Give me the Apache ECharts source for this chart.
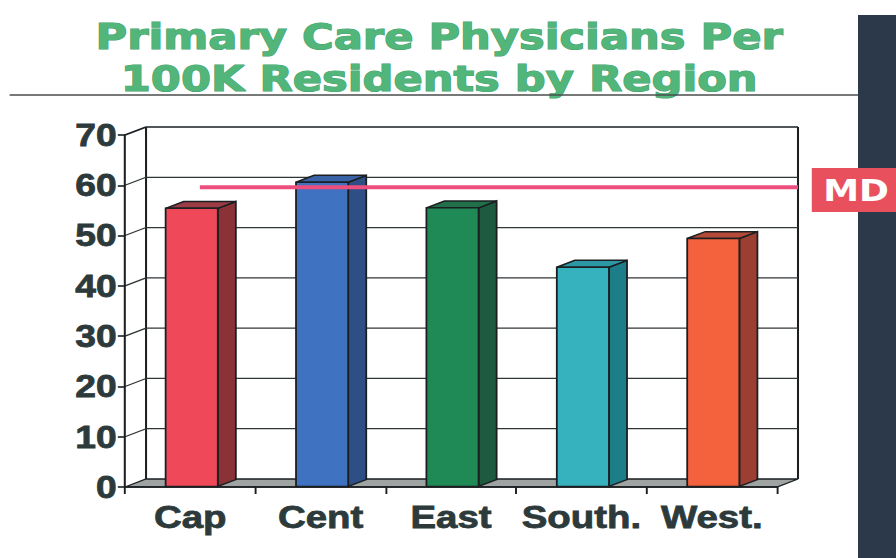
<!DOCTYPE html>
<html>
<head>
<meta charset="utf-8">
<script src="https://cdn.jsdelivr.net/npm/echarts@6/dist/echarts.min.js"></script>
<style>
  html, body { margin: 0; padding: 0; background: #ffffff; overflow: hidden; }
  #stage { width: 896px; height: 558px; overflow: hidden; position: relative; }
  /* slide is drawn at 4:3-ish proportions and widened to the window */
  #chart { width: 747px; height: 558px; transform: scaleX(1.2); transform-origin: 0 0; }
</style>
</head>
<body>
<div id="stage"><div id="chart"></div></div>
<script>
// Regions and primary care physicians per 100K residents
const regions = ['Cap', 'Cent', 'East', 'South.', 'West.'];
const physiciansPer100k = [55.3, 60.5, 55.4, 43.6, 49.3];
// Statewide (MD) reference level
const mdAverage = 59.6;
// Value axis ticks
const yTicks = [0, 10, 20, 30, 40, 50, 60, 70];

// Bar styling: front / top / side shades
const barFront = ['#ef4858', '#3f72c1', '#1f8a56', '#36b2bf', '#f4613d'];
const barTop   = ['#9c3c44', '#3a62a6', '#22704a', '#2c98a4', '#b44b38'];
const barSide  = ['#8a3238', '#2e4f86', '#1d5a40', '#1d7e8a', '#9c3f33'];

// Depth of the 3D frame (pixels)
const DX = 17.5, DY = -8;
const EDGE = '#1b1f22';
const GRID = '#303536';
const LABEL = '#2d3a3b';

const chart = echarts.init(document.getElementById('chart'), null, { renderer: 'svg' });

function frameItem(params, api) {
  const v = api.value(0);
  const band = api.size([1, 0])[0];
  const p = api.coord([0, v]);
  const L = p[0] - band / 2;
  const R = api.coord([regions.length - 1, v])[0] + band / 2;
  const y = p[1];
  const children = [];
  if (v === yTicks[0]) {
    const yTop = api.coord([0, yTicks[yTicks.length - 1]])[1];
    // floor slab
    children.push({
      type: 'polygon',
      shape: { points: [[L, y], [R, y], [R + DX, y + DY], [L + DX, y + DY]] },
      style: { fill: '#9fa3a2', stroke: EDGE, lineWidth: 1.3 }
    });
    // back wall verticals
    children.push({
      type: 'line',
      shape: { x1: L + DX, y1: y + DY, x2: L + DX, y2: yTop + DY },
      style: { stroke: EDGE, lineWidth: 1.7 }
    });
    children.push({
      type: 'line',
      shape: { x1: R + DX, y1: y + DY, x2: R + DX, y2: yTop + DY },
      style: { stroke: EDGE, lineWidth: 1.7 }
    });
  } else {
    const top = v === yTicks[yTicks.length - 1];
    children.push({
      type: 'line',
      shape: { x1: L + DX, y1: y + DY, x2: R + DX, y2: y + DY },
      style: { stroke: top ? EDGE : GRID, lineWidth: top ? 1.7 : 1.2 }
    });
    children.push({
      type: 'line',
      shape: { x1: L, y1: y, x2: L + DX, y2: y + DY },
      style: { stroke: top ? EDGE : GRID, lineWidth: top ? 1.7 : 1.2 }
    });
  }
  return { type: 'group', children: children };
}

function barItem(params, api) {
  const i = api.value(0);
  const v = api.value(1);
  const band = api.size([1, 0])[0];
  const base = api.coord([i, 0]);
  const top = api.coord([i, v]);
  const w = band * 0.4;
  const f0 = 0.07, f1 = 0.93;
  const ox0 = DX * f0, oy0 = DY * f0, ox1 = DX * f1, oy1 = DY * f1;
  const xl = base[0] - w / 2 + ox0, xr = base[0] + w / 2 + ox0;
  const yt = top[1] + oy0, yb = base[1] + oy0;
  const dx = ox1 - ox0, dy = oy1 - oy0;
  const idx = params.dataIndex;
  return {
    type: 'group',
    children: [
      {
        type: 'polygon',
        shape: { points: [[xr, yt], [xr + dx, yt + dy], [xr + dx, yb + dy], [xr, yb]] },
        style: { fill: barSide[idx], stroke: EDGE, lineWidth: 1.5 }
      },
      {
        type: 'polygon',
        shape: { points: [[xl, yt], [xr, yt], [xr + dx, yt + dy], [xl + dx, yt + dy]] },
        style: { fill: barTop[idx], stroke: EDGE, lineWidth: 1.5 }
      },
      {
        type: 'rect',
        shape: { x: xl, y: yt, width: w, height: yb - yt },
        style: { fill: barFront[idx], stroke: EDGE, lineWidth: 1.5 }
      }
    ]
  };
}

function mdLineItem(params, api) {
  const v = api.value(0);
  const band = api.size([1, 0])[0];
  const start = api.coord([0, v]);
  const end = api.coord([regions.length - 1, v]);
  return {
    type: 'line',
    shape: { x1: start[0] + 8, y1: start[1], x2: end[0] + band / 2 + DX, y2: start[1] },
    style: { stroke: '#ec4f7e', lineWidth: 4 }
  };
}

chart.setOption({
  animation: false,
  backgroundColor: '#ffffff',
  grid: { left: 104.2, right: 99.5, top: 135, bottom: 71 },
  graphic: [
    {
      type: 'text', x: 366, y: 15, z: 10,
      style: {
        text: 'Primary Care Physicians Per\n100K Residents by Region',
        font: 'bold 36px "DejaVu Sans", Verdana, sans-serif',
        lineHeight: 42,
        fill: '#52b67b',
        stroke: '#46a46e',
        lineWidth: 1.2,
        align: 'center'
      }
    },
    {
      type: 'line', z: 10,
      shape: { x1: 8, y1: 95, x2: 715, y2: 95 },
      style: { stroke: '#4a4d4d', lineWidth: 1.5 }
    },
    {
      type: 'rect', z: 10,
      shape: { x: 715, y: 15, width: 40, height: 560 },
      style: { fill: '#2b394a' }
    },
    {
      type: 'rect', z: 11,
      shape: { x: 676.5, y: 168, width: 75, height: 44 },
      style: { fill: '#e9505d' }
    },
    {
      type: 'text', x: 686, y: 191, z: 12,
      style: {
        text: 'MD',
        font: 'bold 30px "DejaVu Sans", Verdana, sans-serif',
        fill: '#ffffff',
        verticalAlign: 'middle'
      }
    }
  ],
  xAxis: {
    type: 'category',
    data: regions,
    z: 1,
    axisLine: { lineStyle: { color: EDGE, width: 1.6 } },
    axisTick: { show: true, length: 7, lineStyle: { color: EDGE, width: 1.6 } },
    axisLabel: {
      interval: 0, margin: 14,
      fontFamily: '"Liberation Sans", Arial, sans-serif',
      fontWeight: 'bold', fontSize: 32, color: LABEL,
      textBorderColor: LABEL, textBorderWidth: 0.8
    },
    splitLine: { show: false }
  },
  yAxis: {
    type: 'value',
    min: 0, max: 70, interval: 10,
    z: 1,
    axisLine: { show: true, lineStyle: { color: EDGE, width: 1.7 } },
    axisTick: { show: true, length: 6, lineStyle: { color: EDGE, width: 1.6 } },
    axisLabel: {
      margin: 7,
      formatter: function (v) { return yTicks.indexOf(v) >= 0 ? String(v) : ''; },
      fontFamily: '"Liberation Sans", Arial, sans-serif',
      fontWeight: 'bold', fontSize: 31, color: LABEL,
      textBorderColor: LABEL, textBorderWidth: 0.8
    },
    splitLine: { show: false }
  },
  series: [
    {
      type: 'custom', name: 'frame', z: 0, clip: false, silent: true,
      renderItem: frameItem,
      data: yTicks.map(function (t) { return [t]; })
    },
    {
      type: 'custom', name: 'Physicians per 100K', z: 2, clip: false,
      renderItem: barItem,
      encode: { x: 0, y: 1 },
      data: physiciansPer100k.map(function (v, i) { return [i, v]; })
    },
    {
      type: 'custom', name: 'MD', z: 3, clip: false, silent: true,
      renderItem: mdLineItem,
      data: [[mdAverage]]
    }
  ]
});
</script>
</body>
</html>
